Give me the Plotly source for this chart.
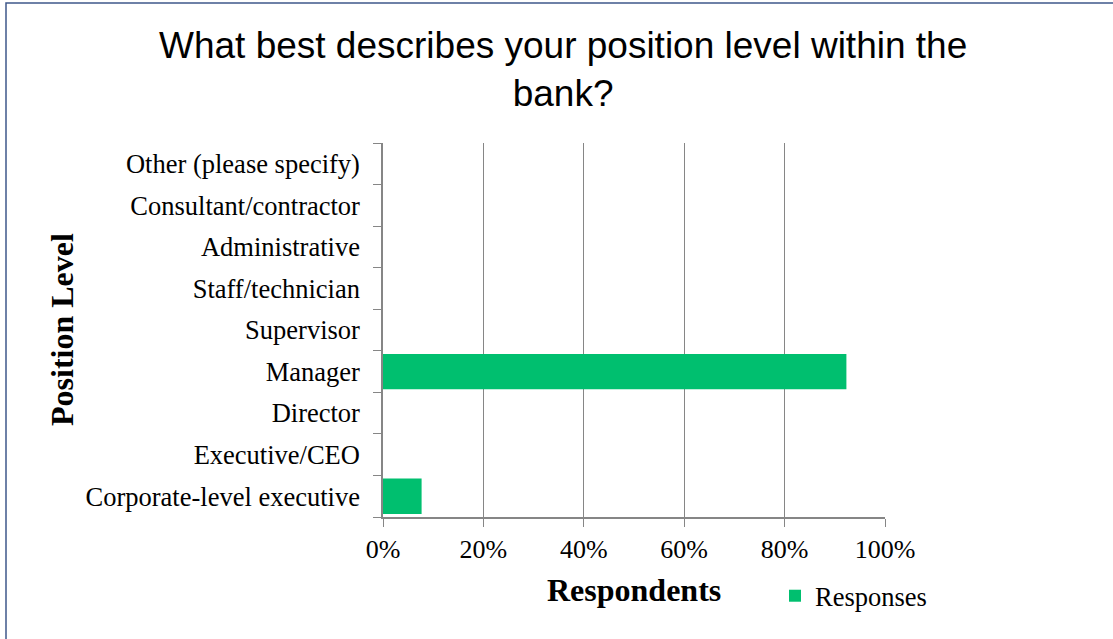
import plotly.graph_objects as go

# Survey answers, bottom to top as drawn on the category axis
positions = [
    "Corporate-level executive",
    "Executive/CEO",
    "Director",
    "Manager",
    "Supervisor",
    "Staff/technician",
    "Administrative",
    "Consultant/contractor",
    "Other (please specify)",
]
share = [7.69, 0, 0, 92.31, 0, 0, 0, 0, 0]  # percent of respondents
x_ticks = [0, 20, 40, 60, 80, 100]
x_tick_text = ["0%", "20%", "40%", "60%", "80%", "100%"]

W, H = 1113, 639
L, R, T, B = 383, 228, 143, 122
pw, ph = W - L - R, H - T - B


def px_x(x):
    """Horizontal pixel -> paper fraction."""
    return (x - L) / pw


def px_y(y):
    """Vertical pixel (from top) -> paper fraction."""
    return (T + ph - y) / ph


serif = "Liberation Serif, Times New Roman, serif"
sans = "Liberation Sans, Arial, sans-serif"
green = "rgb(0,191,111)"
grey = "rgb(134,134,134)"

fig = go.Figure(
    go.Bar(
        x=share,
        y=positions,
        orientation="h",
        name="Responses",
        marker=dict(color=green, line=dict(width=0)),
        showlegend=True,
    )
)

fig.update_layout(
    width=W,
    height=H,
    margin=dict(l=L, r=R, t=T, b=B),
    paper_bgcolor="white",
    plot_bgcolor="white",
    bargap=0.15,
    xaxis=dict(
        range=[0, 100],
        tickvals=x_ticks,
        ticktext=x_tick_text,
        showgrid=True,
        gridcolor=grey,
        gridwidth=1,
        showline=True,
        linecolor=grey,
        linewidth=1.5,
        ticks="outside",
        ticklen=8,
        tickcolor=grey,
        tickfont=dict(family=serif, size=26, color="black"),
        zeroline=False,
        fixedrange=True,
    ),
    yaxis=dict(
        type="category",
        categoryorder="array",
        categoryarray=positions,
        tickson="boundaries",
        ticks="outside",
        ticklen=8,
        tickcolor=grey,
        showline=True,
        linecolor=grey,
        linewidth=1.5,
        showgrid=False,
        tickfont=dict(family=serif, size=26.5, color="black"),
        ticklabelstandoff=16,
        fixedrange=True,
    ),
    legend=dict(
        x=px_x(775),
        y=px_y(596),
        xanchor="left",
        yanchor="middle",
        font=dict(family=serif, size=26.5, color="black"),
        bgcolor="rgba(0,0,0,0)",
        itemwidth=30,
    ),
    annotations=[
        dict(
            text="What best describes your position level within the<br>bank?",
            font=dict(family=sans, size=37, color="black"),
            xref="paper",
            yref="paper",
            x=px_x(563),
            y=px_y(69),
            xanchor="center",
            yanchor="middle",
            showarrow=False,
        ),
        dict(
            text="<b>Position Level</b>",
            font=dict(family=serif, size=32, color="black"),
            textangle=-90,
            xref="paper",
            yref="paper",
            x=px_x(62),
            y=px_y(330),
            xanchor="center",
            yanchor="middle",
            showarrow=False,
        ),
        dict(
            text="<b>Respondents</b>",
            font=dict(family=serif, size=32, color="black"),
            xref="paper",
            yref="paper",
            x=px_x(634),
            y=px_y(590),
            xanchor="center",
            yanchor="middle",
            showarrow=False,
        ),
    ],
    shapes=[
        dict(
            type="rect",
            xref="paper",
            yref="paper",
            x0=px_x(6),
            x1=px_x(W + 10),
            y0=px_y(H + 10),
            y1=px_y(3),
            line=dict(color="rgb(63,88,138)", width=1.5),
            layer="below",
        )
    ],
)

fig.write_html("out.html")
